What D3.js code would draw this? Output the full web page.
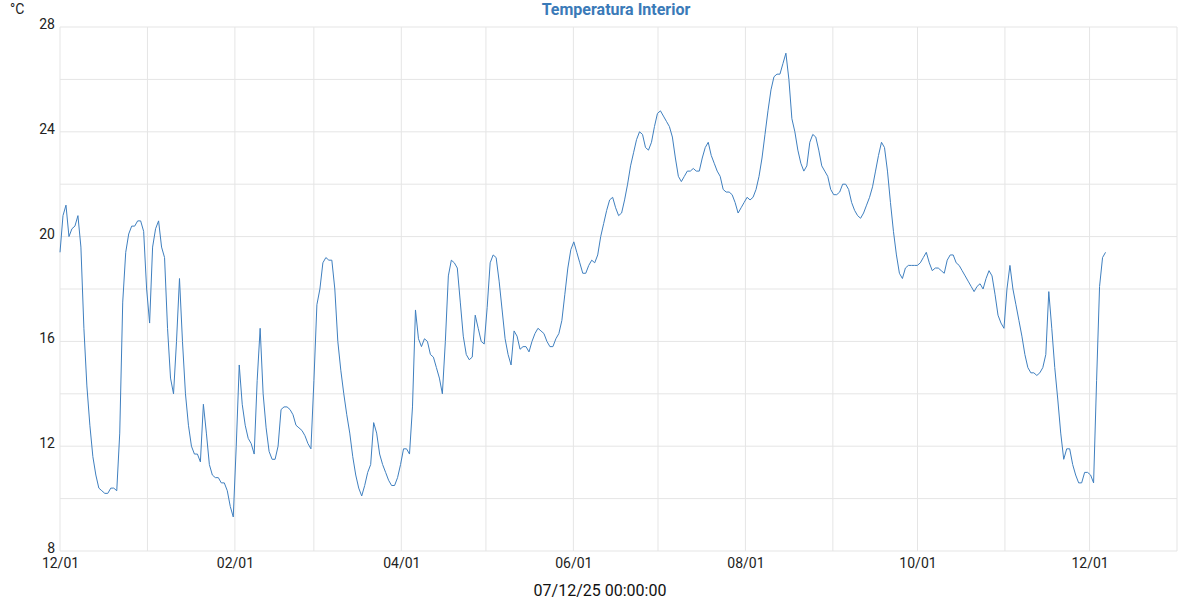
<!DOCTYPE html>
<html>
<head>
<meta charset="utf-8">
<script src="https://cdn.jsdelivr.net/npm/d3@7"></script>
<style>
  body { margin: 0; background: #fff; font-family: Roboto, sans-serif; }
  .tick-label { font-size: 14px; fill: #222; }
</style>
</head>
<body>
<div id="chart"></div>
<script>
// series: roughly one reading per day, from start to end
const START = new Date(2024, 11, 1, 0, 0);
const END = new Date(2025, 11, 6, 16, 0);
const temps = [
  19.4, 20.8, 21.2, 20.0, 20.3, 20.4, 20.8, 19.6, 16.5, 14.3, 12.8, 11.6, 10.9, 10.4, 10.3, 10.2, 10.2, 10.4, 10.4, 10.3,
  12.5, 17.5, 19.4, 20.1, 20.4, 20.4, 20.6, 20.6, 20.2, 18.0, 16.7, 19.6, 20.3, 20.6, 19.6, 19.2, 16.5, 14.6, 14.0, 16.0,
  18.4, 16.0, 14.0, 12.8, 12.0, 11.7, 11.7, 11.4, 13.6, 12.5, 11.3, 10.9, 10.8, 10.8, 10.6, 10.6, 10.3, 9.7, 9.3, 12.0,
  15.1, 13.6, 12.8, 12.3, 12.1, 11.7, 14.5, 16.5, 14.0, 12.7, 11.8, 11.5, 11.5, 12.0, 13.4, 13.5, 13.5, 13.4, 13.2, 12.8,
  12.7, 12.6, 12.4, 12.1, 11.9, 14.5, 17.4, 18.0, 19.0, 19.2, 19.1, 19.1, 18.0, 16.0, 14.9, 14.0, 13.2, 12.5, 11.6, 10.9,
  10.4, 10.1, 10.5, 11.0, 11.3, 12.9, 12.5, 11.7, 11.3, 11.0, 10.7, 10.5, 10.5, 10.8, 11.3, 11.9, 11.9, 11.7, 13.5, 17.2,
  16.1, 15.8, 16.1, 16.0, 15.5, 15.4, 15.0, 14.6, 14.0, 16.0, 18.5, 19.1, 19.0, 18.8, 17.5, 16.2, 15.5, 15.3, 15.4, 17.0,
  16.5, 16.0, 15.9, 17.3, 19.0, 19.3, 19.2, 18.3, 17.2, 16.1, 15.5, 15.1, 16.4, 16.2, 15.7, 15.8, 15.8, 15.6, 16.0, 16.3,
  16.5, 16.4, 16.3, 16.0, 15.8, 15.8, 16.1, 16.3, 16.8, 17.8, 18.8, 19.5, 19.8, 19.4, 19.0, 18.6, 18.6, 18.9, 19.1, 19.0,
  19.3, 20.0, 20.5, 21.0, 21.4, 21.5, 21.1, 20.8, 20.9, 21.4, 22.0, 22.7, 23.2, 23.7, 24.0, 23.9, 23.4, 23.3, 23.6, 24.2,
  24.7, 24.8, 24.6, 24.4, 24.2, 23.8, 23.0, 22.3, 22.1, 22.3, 22.5, 22.5, 22.6, 22.5, 22.5, 23.0, 23.4, 23.6, 23.1, 22.8,
  22.5, 22.3, 21.8, 21.7, 21.7, 21.6, 21.3, 20.9, 21.1, 21.3, 21.5, 21.4, 21.5, 21.8, 22.3, 23.0, 23.9, 24.8, 25.6, 26.1,
  26.2, 26.2, 26.6, 27.0, 26.0, 24.5, 24.0, 23.3, 22.8, 22.5, 22.7, 23.6, 23.9, 23.8, 23.3, 22.7, 22.5, 22.3, 21.8, 21.6,
  21.6, 21.7, 22.0, 22.0, 21.8, 21.3, 21.0, 20.8, 20.7, 20.9, 21.2, 21.5, 21.9, 22.5, 23.1, 23.6, 23.4, 22.5, 21.3, 20.2,
  19.3, 18.6, 18.4, 18.8, 18.9, 18.9, 18.9, 18.9, 19.0, 19.2, 19.4, 19.0, 18.7, 18.8, 18.8, 18.7, 18.6, 19.1, 19.3, 19.3,
  19.0, 18.9, 18.7, 18.5, 18.3, 18.1, 17.9, 18.1, 18.2, 18.0, 18.4, 18.7, 18.5, 17.8, 17.0, 16.7, 16.5, 18.0, 18.9, 18.0,
  17.4, 16.8, 16.2, 15.5, 15.0, 14.8, 14.8, 14.7, 14.8, 15.0, 15.5, 17.9, 16.5, 15.0, 13.8, 12.5, 11.5, 11.9, 11.9, 11.3,
  10.9, 10.6, 10.6, 11.0, 11.0, 10.9, 10.6, 14.5, 18.1, 19.2, 19.4
];
const yTickLabels = [8, 12, 16, 20, 24, 28];
const yGridValues = [8, 10, 12, 14, 16, 18, 20, 22, 24, 26, 28];
const TITLE = 'Temperatura Interior';
const UNIT = '°C';
const FOOTER = '07/12/25 00:00:00';

const width = 1200, height = 600;
const margin = { top: 27, right: 23, bottom: 49, left: 60 };
const innerW = width - margin.left - margin.right;
const innerH = height - margin.top - margin.bottom;

const stepMs = (END - START) / (temps.length - 1);
const data = temps.map((v, i) => ({ date: new Date(START.getTime() + i * stepMs), value: v }));

const svg = d3.select('#chart').append('svg')
  .attr('width', width).attr('height', height);

const g = svg.append('g').attr('transform', `translate(${margin.left}, ${margin.top})`);

const x = d3.scaleTime()
  .domain([new Date(2024, 11, 1), new Date(2026, 0, 1)])
  .range([0, innerW]);
const y = d3.scaleLinear().domain([8, 28]).range([innerH, 0]);

// grid lines
const months = d3.timeMonth.range(new Date(2024, 11, 1), new Date(2026, 0, 2));
g.append('g').selectAll('line.vx').data(months).enter().append('line')
  .attr('x1', d => x(d)).attr('x2', d => x(d))
  .attr('y1', 0).attr('y2', innerH)
  .attr('stroke', '#e5e5e5').attr('stroke-width', 1);
g.append('g').selectAll('line.hy').data(yGridValues).enter().append('line')
  .attr('x1', 0).attr('x2', innerW)
  .attr('y1', d => y(d)).attr('y2', d => y(d))
  .attr('stroke', '#e5e5e5').attr('stroke-width', 1);

// axes
const xAxis = g.append('g')
  .attr('transform', `translate(0, ${innerH})`)
  .call(d3.axisBottom(x)
    .tickValues(months.filter(d => (d.getMonth() % 2 === 1 || d.getMonth() === 11) && d < new Date(2026, 0, 1)))
    .tickFormat(d3.timeFormat('%m/%d')).tickSize(0).tickPadding(4));
xAxis.select('.domain').remove();
xAxis.selectAll('text').attr('class', 'tick-label').attr('font-family', 'Roboto, sans-serif').attr('dy', '0.9em');

const yAxis = g.append('g')
  .call(d3.axisLeft(y).tickValues(yTickLabels).tickSize(0).tickPadding(5));
yAxis.select('.domain').remove();
yAxis.selectAll('text').attr('class', 'tick-label').attr('font-family', 'Roboto, sans-serif').attr('dy', '0.1em');

// line
const line = d3.line().x(d => x(d.date)).y(d => y(d.value));
g.append('path').datum(data)
  .attr('d', line)
  .attr('fill', 'none')
  .attr('stroke', '#3f7fbf')
  .attr('stroke-width', 1);

// texts
svg.append('text').attr('x', 616).attr('y', 15)
  .attr('text-anchor', 'middle').attr('font-weight', 'bold').attr('font-size', 16)
  .attr('fill', '#3a7ab8').text(TITLE);
svg.append('text').attr('x', 10).attr('y', 14)
  .attr('font-size', 14).attr('fill', '#222').text(UNIT);
svg.append('text').attr('x', 600).attr('y', 592)
  .attr('dominant-baseline', 'middle')
  .attr('text-anchor', 'middle').attr('font-size', 16).attr('fill', '#111').text(FOOTER);
</script>
</body>
</html>
